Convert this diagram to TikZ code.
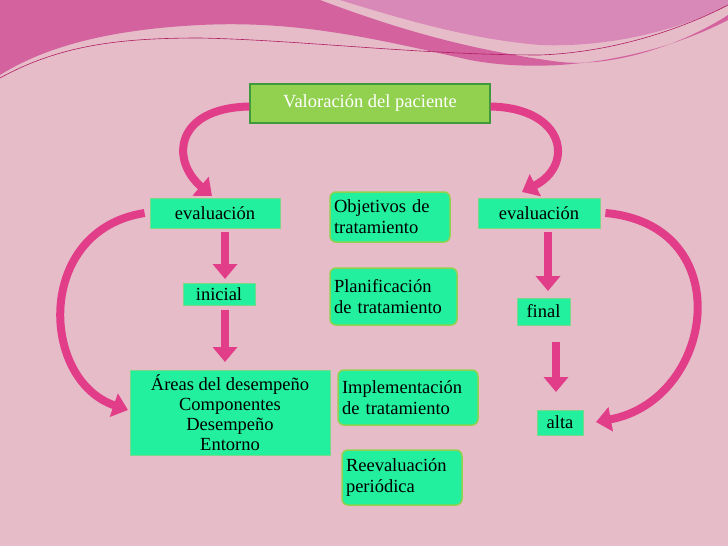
\documentclass[tikz,border=0pt]{standalone}
\usepackage{fontspec}
\setmainfont{Liberation Serif}
\usetikzlibrary{arrows.meta}
\definecolor{bgpink}{HTML}{E6BCC8}
\definecolor{band}{HTML}{D3629E}
\definecolor{band2}{HTML}{D889B8}
\definecolor{lime}{HTML}{92D050}
\definecolor{limeb}{HTML}{3E9A3A}
\definecolor{aqua}{HTML}{22F09E}
\definecolor{aquab}{HTML}{7BD88A}
\definecolor{arr}{HTML}{E23D88}
\definecolor{arrb}{HTML}{B01E62}
\tikzset{
 sq/.style={fill=aqua,draw=aquab,line width=0.8pt,inner sep=0pt,font=\fontsize{18.5}{21}\selectfont},
 rd/.style={sq,rounded corners=6pt,draw=lime,line width=1.5pt,align=left},
 blk/.style={draw=arr,line width=8pt,-{Triangle[width=24pt,length=15pt]}},
}
\begin{document}
\begin{tikzpicture}[x=1pt,y=-1pt]
\fill[bgpink] (0,0) rectangle (728,546);
\useasboundingbox (0,0) rectangle (728,546);
\fill[band] (0,0) -- (320,0) .. controls (400,30) and (470,50) .. (560,62) .. controls (620,68) and (690,40) .. (728,15) -- (728,20) .. controls (650,60) and (550,75) .. (470,60) .. controls (380,40) and (300,20) .. (200,25) .. controls (100,30) and (40,50) .. (0,75) -- cycle;
\fill[band2] (340,0) .. controls (420,25) and (480,40) .. (540,45) .. controls (620,48) and (690,25) .. (728,5) -- (728,0) -- cycle;
\draw[arrb,line width=0.6pt] (0,78) .. controls (60,45) and (120,38) .. (200,38) .. controls (300,40) and (420,55) .. (540,55) .. controls (620,52) and (690,25) .. (728,5);
\node[fill=lime,draw=limeb,line width=1.2pt,minimum width=240pt,minimum height=39pt,font=\fontsize{18.5}{21}\selectfont,text=white] (val) at (370,103.5) {Valoración del paciente};
\node[sq,minimum width=130pt,minimum height=30pt] (evl) at (215,213) {evaluación};
\node[sq,minimum width=122pt,minimum height=30pt] (evr) at (539,213) {evaluación};
\node[rd,minimum width=120pt,minimum height=50pt,text width=112pt] (obj) at (390,217) {Objetivos de\\tratamiento};
\node[sq,minimum width=72pt,minimum height=22pt] (ini) at (219,294) {inicial};
\node[rd,minimum width=127pt,minimum height=57pt,text width=119pt] (pla) at (393.5,296.5) {Planificación\\de tratamiento};
\node[sq,minimum width=53pt,minimum height=27pt] (fin) at (543.5,311.5) {final};
\node[sq,minimum width=200pt,minimum height=85pt,align=center,font=\fontsize{18.5}{20}\selectfont] (are) at (230,412.5) {Áreas del desempeño\\Componentes\\Desempeño\\Entorno};
\node[rd,minimum width=140pt,minimum height=55pt,text width=132pt] (imp) at (408,397.5) {Implementación\\de tratamiento};
\node[sq,minimum width=46pt,minimum height=25pt] (alt) at (560,422.5) {alta};
\node[rd,minimum width=120pt,minimum height=55pt,text width=112pt] (ree) at (402,477.5) {Reevaluación\\periódica};
\coordinate (l1) at (225,232); \coordinate (l1t) at (225,279);
\coordinate (l2) at (225,310); \coordinate (l2t) at (225,362);
\coordinate (r1) at (548,232); \coordinate (r1t) at (548,291);
\coordinate (r2) at (556,342); \coordinate (r2t) at (556,392);
\draw[blk] (l1) -- (l1t);
\draw[blk] (l2) -- (l2t);
\draw[blk] (r1) -- (r1t);
\draw[blk] (r2) -- (r2t);
\draw[blk] ([yshift=-3pt]val.west) .. controls (175,108) and (170,160) .. (212,196);
\draw[blk] ([yshift=-3pt]val.east) .. controls (565,108) and (575,165) .. (522,192);
\draw[blk] ([xshift=-5pt]evl.west) .. controls (35,230) and (40,380) .. (128,410);
\draw[blk] ([xshift=5pt]evr.east) .. controls (740,225) and (715,400) .. (596,422);
\end{tikzpicture}
\end{document}
